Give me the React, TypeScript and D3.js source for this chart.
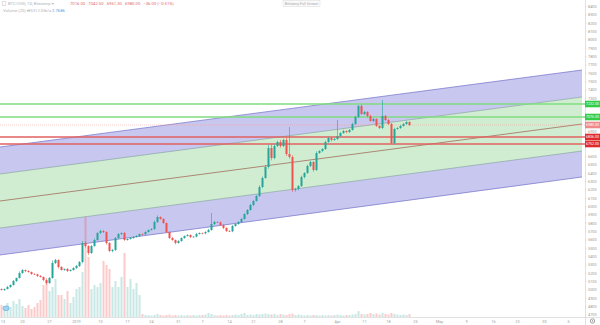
import React from "react";
import * as d3 from "d3";

// ---------- data ----------
const firstOpen = 5010;
const closes = [
  5000, 5012, 5036, 5060, 5108, 5144, 5204, 5240, 5228, 5216,
  5192, 5188, 5168, 5156, 5120, 5084, 5144, 5324, 5360, 5276,
  5240, 5252, 5228, 5240, 5264, 5288, 5336, 5564, 5528, 5444,
  5528, 5600, 5684, 5708, 5696, 5564, 5468, 5480, 5624, 5672,
  5684, 5600, 5612, 5624, 5636, 5648, 5672, 5668, 5696, 5720,
  5732, 5816, 5876, 5852, 5804, 5696, 5624, 5600, 5564, 5588,
  5624, 5648, 5660, 5636, 5640, 5672, 5684, 5680, 5696, 5720,
  5792, 5816, 5812, 5780, 5744, 5708, 5704, 5768, 5792, 5816,
  5852, 5912, 5960, 6020, 6068, 6128, 6236, 6344, 6476, 6704,
  6584, 6728, 6776, 6728, 6800, 6632, 6596, 6200, 6212, 6248,
  6356, 6404, 6488, 6536, 6440, 6644, 6668, 6692, 6776, 6824,
  6800, 6812, 6848, 6884, 6908, 6896, 6920, 6992, 7076, 7208,
  7112, 7136, 7088, 7028, 7052, 6968, 6944, 7088, 7040, 6992,
  6764, 6932, 6944, 6968, 6992, 7016, 6980,
];
const wickUp = [
  10, 6, 14, 8, 12, 6, 18, 10, 6, 8,
  6, 10, 8, 12, 6, 20, 12, 30, 14, 8,
  10, 6, 12, 8, 10, 14, 12, 24, 20, 10,
  14, 18, 10, 16, 12, 8, 10, 14, 12, 10,
  8, 12, 6, 10, 8, 12, 6, 10, 8, 6,
  10, 16, 20, 8, 10, 6, 8, 12, 6, 10,
  8, 6, 10, 8, 6, 12, 8, 6, 10, 14,
  132, 12, 8, 10, 6, 8, 10, 12, 8, 10,
  14, 10, 12, 16, 10, 14, 20, 18, 24, 36,
  40, 20, 16, 24, 18, 30, 324, 20, 14, 12,
  16, 10, 18, 14, 12, 20, 10, 12, 16, 14,
  10, 12, 192, 10, 14, 8, 12, 16, 14, 12,
  20, 14, 10, 16, 12, 8, 12, 192, 14, 10,
  12, 16, 10, 14, 12, 10, 8,
];
const wickDn = [
  8, 12, 6, 10, 8, 12, 6, 10, 14, 8,
  10, 8, 12, 6, 14, 20, 10, 8, 12, 18,
  8, 10, 12, 6, 8, 10, 12, 16, 20, 24,
  12, 10, 8, 12, 14, 18, 12, 16, 10, 8,
  12, 10, 8, 6, 10, 8, 12, 10, 6, 8,
  6, 10, 12, 8, 10, 14, 12, 10, 16, 8,
  10, 8, 6, 12, 10, 8, 6, 10, 12, 8,
  10, 12, 8, 10, 14, 12, 8, 10, 6, 8,
  10, 8, 12, 10, 14, 8, 12, 16, 10, 20,
  28, 16, 12, 20, 14, 24, 18, 24, 20, 16,
  12, 18, 10, 14, 20, 12, 10, 14, 12, 10,
  16, 10, 12, 8, 10, 14, 12, 8, 10, 12,
  10, 12, 16, 8, 14, 10, 12, 14, 10, 12,
  12, 14, 10, 12, 8, 10, 12,
];
const volumes = [
  12, 9, 14, 10, 16, 13, 18, 11, 9, 12,
  8, 10, 14, 17, 32, 36, 26, 30, 38, 22,
  22, 18, 26, 14, 20, 28, 30, 45, 100, 60,
  28, 32, 30, 34, 56, 52, 48, 30, 36, 30,
  40, 64, 30, 38, 28, 34, 22, 3, 2, 2,
  1.5, 2, 3, 2, 1.5, 2, 2.5, 1.5, 2, 1.5,
  2, 1.5, 2, 1.5, 2, 1.5, 2, 2, 2.5, 4,
  3, 2, 1.5, 2, 1.5, 2, 1.5, 2, 2.5, 2,
  3, 4, 2, 2.5, 2, 3, 2.5, 3, 3.5, 3,
  2.5, 3, 2, 3, 2.5, 2, 3, 3.5, 2, 2.5,
  2, 1.5, 2, 1.5, 2, 2, 1.5, 2, 1.5, 2,
  1.5, 2, 2.5, 2, 1.5, 2, 2, 2.5, 3, 6,
  3, 2.5, 3, 4, 3, 3.5, 2.5, 4, 3, 2.5,
  4, 3, 2.5, 2, 2.5, 2, 3,
];

// regression channel (price at channel start / end)
const channelIdx = [-0.5, 193.5];
const upperOuter = [6716, 7640];
const upperInner = [6392, 7316];
const midLine = [6068, 6992];
const lowerInner = [5744, 6668];
const lowerOuter = [5420, 6356];

const greenLevels = [7232, 7076];
const redLevels = [6836, 6752];
const lastPrice = 6980;

const timeTickIdx = [0.5, 7, 16, 25, 33, 42, 50, 59, 67, 76, 84, 93, 101, 112, 121, 129, 138, 146, 155, 164, 172, 181, 189];
const timeLabels = ["13", "20", "27", "2019", "10", "17", "24", "31", "7", "14", "21", "28", "7", "Apr", "11", "18", "25", "May", "9", "16", "23", "30", "6"];

const priceTicks = d3.range(4700, 8401, 100);

const headerTitle = "BTC/USD, 1D, Bitstamp";
const headerValues = "7016.00   7042.50   6961.30   6980.00   −36.00 (−0.51%)";
const volTitle = "Volume (20)";
const volValue = "35312.05";
const volNa = "n/a";
const volMa = "2.7686";
const topBadge = "Bitstamp Full Stream";

// ---------- layout ----------
const W = 600;
const H = 325;
const plotRight = 585;
const plotBottom = 317;

export default function App() {
  const x = d3.scaleLinear().domain([-0.5, 194.5]).range([0, plotRight]);
  const y = d3.scaleLinear().domain([8480 - 12 * plotBottom, 8480]).range([plotBottom, 0]);
  const v = d3.scaleLinear().domain([0, 100]).range([plotBottom, plotBottom - 100]);

  const candles = closes.map((c, i) => {
    const o = i === 0 ? firstOpen : closes[i - 1];
    const hi = Math.max(o, c) + wickUp[i];
    const lo = Math.min(o, c) - wickDn[i];
    return { i, o, c, hi, lo, up: c >= o };
  });

  const band = (top: number[], bot: number[]) =>
    d3
      .area<number>()
      .x((d) => x(channelIdx[d]))
      .y0((d) => y(bot[d]))
      .y1((d) => y(top[d]))([0, 1]) as string;
  const line = (p: number[]) =>
    d3
      .line<number>()
      .x((d) => x(channelIdx[d]))
      .y((d) => y(p[d]))([0, 1]) as string;

  const bw = 2;
  const font = "Roboto, 'DejaVu Sans', sans-serif";

  const allLevels = [...greenLevels, ...redLevels, lastPrice];
  const visibleTicks = priceTicks.filter(
    (p) => !allLevels.some((l) => Math.abs(y(p) - y(l)) < 5)
  );

  const levelBox = (p: number, fill: string, key: string) => (
    <g key={key}>
      <rect x={plotRight} y={y(p) - 3.3} width={15} height={6.6} fill={fill} />
      <text x={plotRight + 7.5} y={y(p) + 1.3} fontSize={3.6} fill="#fff" textAnchor="middle" fontFamily={font}>
        {p.toFixed(2)}
      </text>
    </g>
  );

  return (
    <svg width={W} height={H} style={{ position: "absolute", left: 0, top: 0 }} xmlns="http://www.w3.org/2000/svg">
      <rect x={0} y={0} width={W} height={H} fill="#ffffff" />

      {/* channel fills */}
      <path d={band(upperOuter, lowerOuter)} fill="#c7c7ef" />
      <path d={band(upperInner, lowerInner)} fill="#d1edd1" />
      <path d={line(upperOuter)} stroke="#7070c8" strokeWidth={0.7} fill="none" />
      <path d={line(lowerOuter)} stroke="#7070c8" strokeWidth={0.7} fill="none" />
      <path d={line(upperInner)} stroke="#7f9d9a" strokeWidth={0.6} fill="none" />
      <path d={line(lowerInner)} stroke="#7f9d9a" strokeWidth={0.6} fill="none" />
      <path d={line(midLine)} stroke="#9a5a4a" strokeWidth={0.7} fill="none" />

      {/* volume */}
      {candles.map((d) => (
        <rect
          key={"v" + d.i}
          x={x(d.i) - bw / 2}
          y={v(volumes[d.i])}
          width={bw}
          height={plotBottom - v(volumes[d.i])}
          fill={d.up ? "rgba(38,166,154,0.26)" : "rgba(239,83,80,0.3)"}
        />
      ))}

      {/* horizontal levels */}
      {greenLevels.map((p, k) => (
        <line key={"g" + k} x1={0} x2={plotRight} y1={y(p)} y2={y(p)} stroke="#7fdc7f" strokeWidth={1.3} />
      ))}
      {redLevels.map((p, k) => (
        <line key={"r" + k} x1={0} x2={plotRight} y1={y(p)} y2={y(p)} stroke="#e06060" strokeWidth={1.3} />
      ))}
      <line x1={0} x2={plotRight} y1={y(lastPrice)} y2={y(lastPrice)} stroke="#ef9a9a" strokeWidth={0.5} strokeDasharray="1,1" />

      {/* candles */}
      {candles.map((d) => {
        const col = d.up ? "#26a69a" : "#ef5350";
        const top = y(Math.max(d.o, d.c));
        const bot = y(Math.min(d.o, d.c));
        return (
          <g key={"c" + d.i}>
            <line x1={x(d.i)} x2={x(d.i)} y1={y(d.hi)} y2={y(d.lo)} stroke={col} strokeWidth={0.6} />
            <rect x={x(d.i) - bw / 2} y={top} width={bw} height={Math.max(0.6, bot - top)} fill={col} />
          </g>
        );
      })}

      {/* axes */}
      <line x1={plotRight + 0.5} x2={plotRight + 0.5} y1={0} y2={H} stroke="#d6d6d6" strokeWidth={0.7} />
      <line x1={0} x2={W} y1={plotBottom + 0.5} y2={plotBottom + 0.5} stroke="#d6d6d6" strokeWidth={0.7} />
      {visibleTicks.map((p) => (
        <g key={"pt" + p}>
          <line x1={plotRight} x2={plotRight + 1.5} y1={y(p)} y2={y(p)} stroke="#cccccc" strokeWidth={0.4} />
          <text x={plotRight + 3} y={y(p) + 1.3} fontSize={3.8} fill="#9a9a9a" fontFamily={font}>
            {p.toFixed(0)}
          </text>
        </g>
      ))}
      {timeTickIdx.map((t, k) => (
        <text key={"tt" + k} x={x(t)} y={322.5} fontSize={3.8} fill="#9a9a9a" textAnchor="middle" fontFamily={font}>
          {timeLabels[k]}
        </text>
      ))}

      {/* level boxes on price axis */}
      {greenLevels.map((p, k) => levelBox(p, "#33cc44", "gb" + k))}
      {levelBox(lastPrice, "#ef8888", "lb")}
      {redLevels.map((p, k) => levelBox(p, "#e02b2b", "rb" + k))}

      {/* gear icon */}
      <circle cx={592.5} cy={321} r={2.2} fill="none" stroke="#888" strokeWidth={0.8} />
      <circle cx={592.5} cy={321} r={0.7} fill="#888" />

      {/* event badge */}
      <rect x={3} y={306} width={6} height={4.5} rx={2} fill="#9fd3f0" stroke="#4a9fd6" strokeWidth={0.5} />

      {/* header */}
      <rect x={2.5} y={1.8} width={3.4} height={3.4} fill="none" stroke="#b0b0b0" strokeWidth={0.4} />
      <text x={8} y={5.2} fontSize={4.2} fill="#b4b4b4" fontFamily={font}>
        {headerTitle} ▾
      </text>
      <text x={70} y={5.2} fontSize={4.2} fill="#e36a6a" fontFamily={font} style={{ whiteSpace: "pre" }}>
        {headerValues}
      </text>
      <text x={3} y={12} fontSize={4.2} fill="#b4b4b4" fontFamily={font}>
        {volTitle} ▾
      </text>
      <text x={28} y={12} fontSize={4.2} fill="#b4b4b4" fontFamily={font}>
        {volValue}
      </text>
      <text x={45} y={12} fontSize={4.2} fill="#b4b4b4" fontFamily={font}>
        {volNa}
      </text>
      <text x={52} y={12} fontSize={4.2} fill="#4aa0e0" fontFamily={font}>
        {volMa}
      </text>
      <rect x={283} y={0.5} width={37} height={6} fill="#fafafa" stroke="#d0d0d0" strokeWidth={0.4} />
      <text x={301.5} y={4.8} fontSize={3.6} fill="#aaaaaa" textAnchor="middle" fontFamily={font}>
        {topBadge}
      </text>
    </svg>
  );
}
